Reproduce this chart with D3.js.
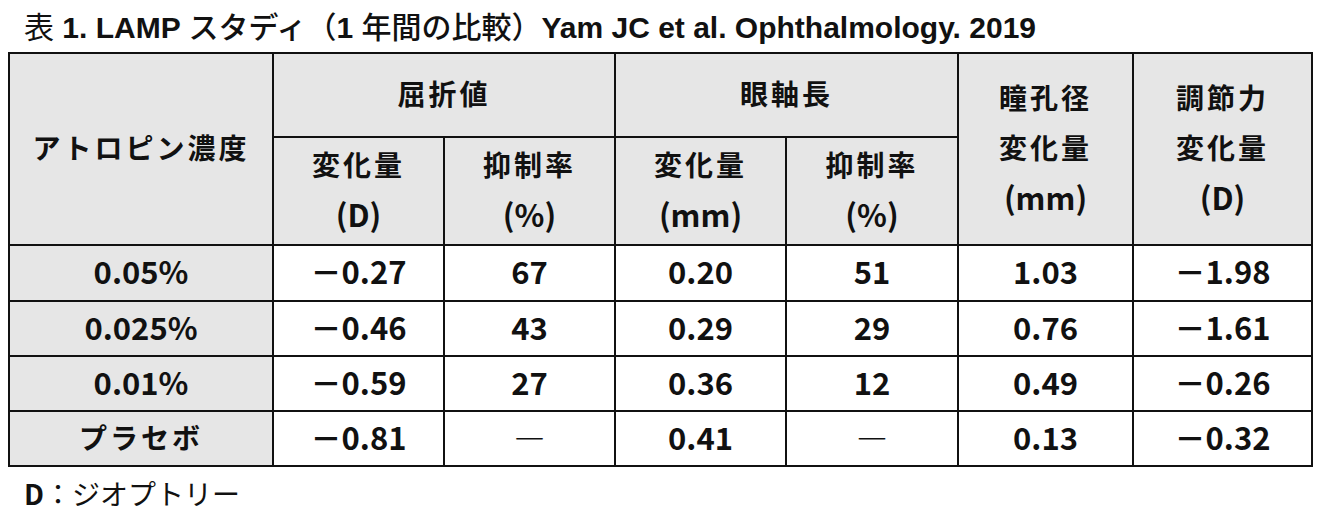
<!DOCTYPE html>
<html><head><meta charset="utf-8">
<script src="https://cdn.jsdelivr.net/npm/d3@7"></script>
<style>body{margin:0;background:#fff}</style>
</head><body><div id="chart"></div>
<script>
// data
var groups = ["0.05%", "0.025%", "0.01%", "プラセボ"];
var refrChange = ["－0.27", "－0.46", "－0.59", "－0.81"];
var refrRate = ["67", "43", "27", "―"];
var axialChange = ["0.20", "0.29", "0.36", "0.41"];
var axialRate = ["51", "29", "12", "―"];
var pupilChange = ["1.03", "0.76", "0.49", "0.13"];
var accomChange = ["－1.98", "－1.61", "－0.26", "－0.32"];

var width = 1321, height = 519;
var colEdges = [9, 273, 444, 615, 786, 958, 1133, 1312];
var rowEdges = [53, 137, 245, 301, 356, 411, 466];
var grey = "#e6e6e6";
var narrow = "'Liberation Sans Narrow', 'Arial Narrow', 'Noto Sans CJK JP', sans-serif";
var jp = "'Noto Sans CJK JP', sans-serif";

var svg = d3.select("#chart").append("svg").attr("width", width).attr("height", height);

// title
var title = svg.append("text").attr("x", 24).attr("y", 38)
    .attr("font-family", "'Liberation Sans', 'Noto Sans CJK JP', sans-serif").attr("font-size", 30).attr("fill", "#111");
[["表 ", 400], ["1. LAMP ", 700], ["スタディ（", 500], ["1 ", 700], ["年間の比較）", 500],
 ["Yam JC et al. Ophthalmology. 2019", 700]].forEach(function (p) {
    title.append("tspan").attr("font-weight", p[1]).text(p[0]);
});

// header cells: [c0, c1, r0, r1, lines]
var header = [
    [0, 1, 0, 2, ["アトロピン濃度"]],
    [1, 3, 0, 1, ["屈折値"]],
    [3, 5, 0, 1, ["眼軸長"]],
    [5, 6, 0, 2, ["瞳孔径", "変化量", "(mm)"]],
    [6, 7, 0, 2, ["調節力", "変化量", "(D)"]],
    [1, 2, 1, 2, ["変化量", "(D)"]],
    [2, 3, 1, 2, ["抑制率", "(%)"]],
    [3, 4, 1, 2, ["変化量", "(mm)"]],
    [4, 5, 1, 2, ["抑制率", "(%)"]]
];
var cells = header.map(function (h) {
    return { c0: h[0], c1: h[1], r0: h[2], r1: h[3], lines: h[4], fill: grey };
});
var cols = [groups, refrChange, refrRate, axialChange, axialRate, pupilChange, accomChange];
groups.forEach(function (g, i) {
    cols.forEach(function (col, j) {
        cells.push({ c0: j, c1: j + 1, r0: i + 2, r1: i + 3, lines: [col[i]], fill: j === 0 ? grey : "#fff" });
    });
});

var cell = svg.selectAll("g.cell").data(cells).enter().append("g");
cell.append("rect")
    .attr("x", function (d) { return colEdges[d.c0]; })
    .attr("y", function (d) { return rowEdges[d.r0]; })
    .attr("width", function (d) { return colEdges[d.c1] - colEdges[d.c0]; })
    .attr("height", function (d) { return rowEdges[d.r1] - rowEdges[d.r0]; })
    .attr("fill", function (d) { return d.fill; })
    .attr("stroke", "#111").attr("stroke-width", 2);

var lineH = 50;
cell.each(function (d) {
    var cx = (colEdges[d.c0] + colEdges[d.c1]) / 2;
    var cy = (rowEdges[d.r0] + rowEdges[d.r1]) / 2;
    var n = d.lines.length;
    d3.select(this).selectAll("text").data(d.lines).enter().append("text")
        .attr("x", cx)
        .attr("y", function (t, k) { return cy + (k - (n - 1) / 2) * lineH; })
        .attr("dy", "0.36em")
        .attr("text-anchor", "middle")
        .attr("font-family", function (t) { return /[ぁ-ヿ一-龯]/.test(t) ? jp : narrow; })
        .attr("font-weight", 700)
        .attr("font-size", function (t) { return /[ぁ-ヿ一-龯]/.test(t) ? 28 : 31; })
        .attr("letter-spacing", function (t) { return /[ぁ-ヿ一-龯]/.test(t) ? 3 : 0; })
        .attr("fill", "#111")
        .text(function (t) { return t; });
});

// footnote
var foot = svg.append("text").attr("x", 24).attr("y", 505)
    .attr("font-size", 28).attr("fill", "#111");
foot.append("tspan").attr("font-family", narrow).attr("font-weight", 700).text("D");
foot.append("tspan").attr("font-family", "'Noto Sans CJK JP', serif").text("：ジオプトリー");
</script>
</body></html>
